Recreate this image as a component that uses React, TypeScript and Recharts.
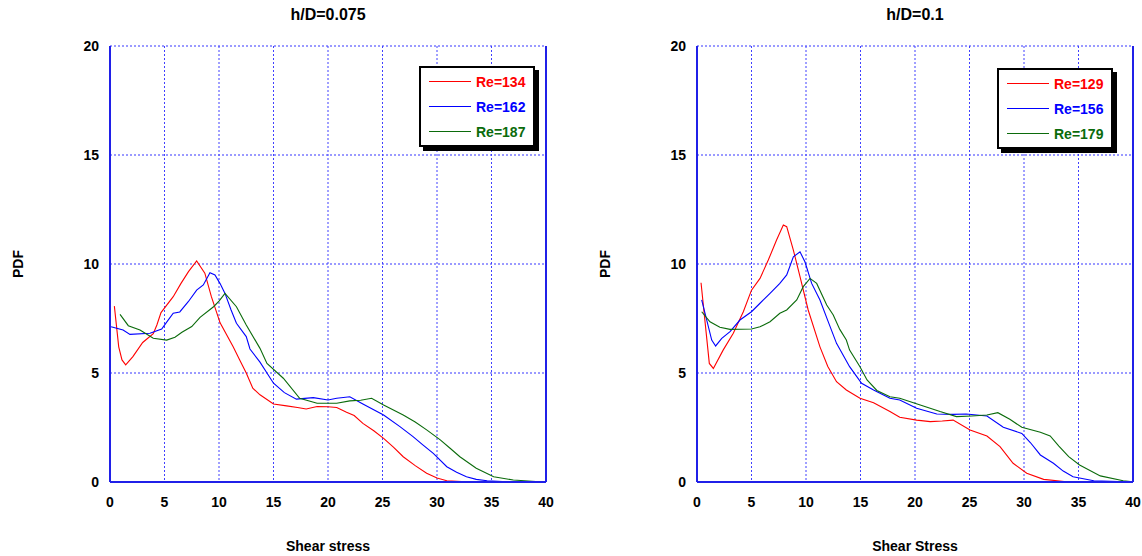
import { LineChart, Line, XAxis, YAxis, CartesianGrid, ReferenceLine } from 'recharts'

// [shear stress, PDF] pairs
const re134: number[][] = [
  [0.4, 8.07], [0.8, 6.2], [1.1, 5.6], [1.44, 5.37], [2.1, 5.75], [3.0, 6.4], [3.97, 6.8], [4.3, 7.2],
  [4.68, 7.77], [5.8, 8.5], [6.5, 9.1], [7.2, 9.65], [7.95, 10.14], [8.7, 9.58], [9.3, 8.5], [10.1, 7.3],
  [11.3, 6.2], [11.9, 5.6], [12.5, 5.0], [13.1, 4.3], [13.76, 4.0], [15.0, 3.58], [16.2, 3.49], [17.2, 3.42],
  [18.0, 3.35], [19.0, 3.46], [20.0, 3.45], [20.8, 3.42], [21.7, 3.2], [22.4, 3.05], [23.2, 2.69], [24.2, 2.35],
  [25.1, 2.0], [26.0, 1.6], [26.9, 1.16], [28.0, 0.75], [29.05, 0.4], [30.0, 0.18], [30.9, 0.06], [32.7, 0.01],
  [35, 0], [40, 0],
]
const re162: number[][] = [
  [0.1, 7.12], [1.2, 6.97], [1.83, 6.77], [3.67, 6.82], [4.74, 7.02], [5.3, 7.4], [5.8, 7.74], [6.4, 7.8],
  [7.18, 8.27], [7.95, 8.8], [8.56, 9.04], [9.17, 9.6], [9.63, 9.5], [10.1, 9.1], [10.55, 8.65], [11.1, 7.9],
  [11.6, 7.28], [12.5, 6.67], [12.84, 6.1], [13.76, 5.5], [14.4, 5.0], [15.0, 4.53], [16.0, 4.1], [17.1, 3.8],
  [18.65, 3.87], [20.0, 3.76], [20.8, 3.84], [22.0, 3.91], [23.2, 3.58], [25.1, 3.07], [26.6, 2.54], [27.8, 2.08],
  [28.7, 1.7], [29.66, 1.31], [30.9, 0.7], [31.8, 0.45], [32.7, 0.24], [33.6, 0.12], [34.6, 0.06], [36, 0.02],
  [40, 0],
]
const re187: number[][] = [
  [0.92, 7.69], [1.68, 7.17], [2.75, 6.97], [3.97, 6.59], [5.2, 6.51], [5.96, 6.64], [6.6, 6.87], [7.5, 7.13],
  [8.26, 7.55], [9.5, 8.04], [10.0, 8.3], [10.55, 8.65], [11.6, 8.04], [12.5, 7.2], [13.76, 6.13], [14.4, 5.44],
  [15.9, 4.76], [17.4, 3.84], [19.0, 3.61], [20.8, 3.61], [22.0, 3.72], [23.0, 3.75], [24.0, 3.84], [25.1, 3.53],
  [26.9, 3.07], [28.0, 2.75], [29.05, 2.39], [30.3, 1.93], [31.2, 1.55], [32.1, 1.16], [33.6, 0.63], [35.2, 0.24],
  [37.0, 0.09], [39.4, 0.01], [40, 0],
]
const re129: number[][] = [
  [0.37, 9.14], [1.13, 5.44], [1.5, 5.21], [2.41, 6.06], [3.33, 6.82], [4.25, 7.81], [5.0, 8.8], [5.78, 9.34],
  [6.54, 10.18], [7.3, 11.1], [7.92, 11.79], [8.23, 11.71], [8.84, 10.64], [9.45, 9.42], [10.2, 7.89], [11.28, 6.2],
  [12.0, 5.3], [12.8, 4.6], [13.7, 4.22], [14.95, 3.84], [16.2, 3.64], [17.7, 3.23], [18.6, 2.97], [20.15, 2.84],
  [21.4, 2.77], [22.5, 2.8], [23.5, 2.84], [25.05, 2.39], [26.6, 2.11], [27.8, 1.62], [29.0, 0.86], [30.25, 0.4],
  [31.8, 0.12], [33.9, 0.01], [40, 0],
]
const re156: number[][] = [
  [0.43, 8.35], [1.35, 6.51], [1.71, 6.24], [2.27, 6.59], [3.03, 6.9], [3.94, 7.43], [5.0, 7.81], [5.78, 8.2],
  [6.7, 8.65], [7.6, 9.11], [8.23, 9.5], [8.84, 10.33], [9.45, 10.56], [9.9, 10.1], [10.52, 9.11], [11.28, 8.35],
  [12.0, 7.4], [12.8, 6.36], [14.0, 5.29], [15.1, 4.53], [16.2, 4.22], [17.7, 3.84], [18.6, 3.76], [20.15, 3.38],
  [22.0, 3.12], [23.5, 3.1], [24.7, 3.12], [26.6, 3.03], [28.1, 2.51], [29.8, 2.23], [30.6, 1.8], [31.5, 1.24],
  [32.7, 0.86], [33.6, 0.5], [34.5, 0.24], [36.4, 0.06], [39.4, 0.01], [40, 0],
]
const re179: number[][] = [
  [0.43, 7.81], [1.19, 7.35], [2.1, 7.1], [3.03, 7.0], [5.0, 7.02], [5.78, 7.12], [6.7, 7.35], [7.6, 7.74],
  [8.23, 7.89], [9.15, 8.35], [9.75, 8.96], [10.37, 9.34], [10.98, 9.11], [11.9, 8.12], [12.5, 7.66], [13.1, 7.0],
  [13.7, 6.51], [14.0, 6.05], [14.95, 5.29], [15.6, 4.68], [16.5, 4.2], [17.7, 3.91], [18.6, 3.84], [20.76, 3.49],
  [22.3, 3.23], [23.8, 3.0], [25.2, 3.03], [26.6, 3.07], [27.6, 3.18], [28.7, 2.88], [29.8, 2.51], [31.5, 2.28],
  [32.4, 2.11], [33.2, 1.65], [34.1, 1.16], [35.1, 0.78], [37.0, 0.28], [39.1, 0.06], [40, 0.01],
]

const xTicks = [0, 5, 10, 15, 20, 25, 30, 35, 40]
const yTicks = [0, 5, 10, 15, 20]

const RED = '#ff0000'
const BLUE = '#0000ff'
const GREEN = '#0b6b0b'
const AXIS = '#2020e8'

interface Series {
  name: string
  color: string
  points: number[][]
}

const toData = (pts: number[][]) => pts.map(([x, y]) => ({ x, y }))

const font = 'Arial, "Liberation Sans", Helvetica, sans-serif'
const tickStyle = { fontSize: 14, fontWeight: 700, fill: '#000', fontFamily: font }

function Panel({ left, marginLeft, marginRight, title, xLabel, series, legendBox }: {
  left: number
  marginLeft: number
  marginRight: number
  title: string
  xLabel: string
  series: Series[]
  legendBox: { x: number; y: number }
}) {
  const plotLeft = marginLeft + 60
  const plotRight = 571 - marginRight
  const center = (plotLeft + plotRight) / 2
  return (
    <div style={{ position: 'absolute', left, top: 0, width: 571, height: 556 }}>
      <LineChart width={571} height={556} margin={{ top: 46, right: marginRight, bottom: 44, left: marginLeft }}>
        <CartesianGrid vertical={false} stroke="#7a7aff" strokeWidth={1.5} strokeDasharray="2 2" />
        <CartesianGrid horizontal={false} stroke="#4040ff" strokeWidth={1} strokeDasharray="2 2" />
        <XAxis
          type="number"
          dataKey="x"
          domain={[0, 40]}
          ticks={xTicks}
          allowDataOverflow
          height={30}
          tickLine={false}
          tickSize={6}
          tickMargin={9}
          axisLine={{ stroke: AXIS, strokeWidth: 2 }}
          tick={tickStyle}
        />
        <YAxis
          type="number"
          domain={[0, 20]}
          ticks={yTicks}
          width={60}
          tickLine={false}
          tickSize={6}
          tickMargin={5}
          axisLine={{ stroke: AXIS, strokeWidth: 2 }}
          tick={tickStyle}
        />
        <ReferenceLine x={40} stroke={AXIS} strokeWidth={2} />
        {series.map(s => (
          <Line
            key={s.name}
            data={toData(s.points)}
            dataKey="y"
            type="linear"
            stroke={s.color}
            strokeWidth={1.1}
            dot={false}
            activeDot={false}
            isAnimationActive={false}
          />
        ))}
      </LineChart>

      <div style={{ position: 'absolute', left: center - 100, width: 200, top: 6, textAlign: 'center', fontFamily: font, fontWeight: 700, fontSize: 16 }}>
        {title}
      </div>
      <div style={{ position: 'absolute', left: center - 100, width: 200, top: 538, textAlign: 'center', fontFamily: font, fontWeight: 700, fontSize: 14 }}>
        {xLabel}
      </div>
      <div style={{
        position: 'absolute', left: plotLeft - 92 - 40, top: 256, width: 80, textAlign: 'center',
        transform: 'rotate(-90deg)', fontFamily: font, fontWeight: 700, fontSize: 14,
      }}>
        PDF
      </div>

      {/* legend box */}
      <div style={{
        position: 'absolute', left: legendBox.x, top: legendBox.y, width: 116, height: 81, boxSizing: 'border-box',
        border: '2px solid #000', background: '#fff', boxShadow: '4px 4px 0 #000',
      }}>
        {series.map((s, i) => (
          <div key={s.name} style={{ position: 'absolute', left: 0, top: 14 + 25 * i - 9, height: 18, width: 112 }}>
            <div style={{ position: 'absolute', left: 8, top: 8, width: 42, height: 0, borderTop: `1px solid ${s.color}` }} />
            <div style={{ position: 'absolute', left: 55, top: 0, lineHeight: '18px', fontFamily: font, fontWeight: 700, fontSize: 14, color: s.color }}>
              {s.name}
            </div>
          </div>
        ))}
      </div>
    </div>
  )
}

export default function App() {
  const leftSeries: Series[] = [
    { name: 'Re=134', color: RED, points: re134 },
    { name: 'Re=162', color: BLUE, points: re162 },
    { name: 'Re=187', color: GREEN, points: re187 },
  ]
  const rightSeries: Series[] = [
    { name: 'Re=129', color: RED, points: re129 },
    { name: 'Re=156', color: BLUE, points: re156 },
    { name: 'Re=179', color: GREEN, points: re179 },
  ]
  return (
    <div style={{ position: 'absolute', left: 0, top: 0, width: 1142, height: 556, background: '#fff', overflow: 'hidden' }}>
      <Panel left={0} marginLeft={50} marginRight={25} title="h/D=0.075" xLabel="Shear stress" series={leftSeries} legendBox={{ x: 419, y: 66 }} />
      <Panel left={571} marginLeft={66} marginRight={9} title="h/D=0.1" xLabel="Shear Stress" series={rightSeries} legendBox={{ x: 426, y: 68 }} />
    </div>
  )
}
